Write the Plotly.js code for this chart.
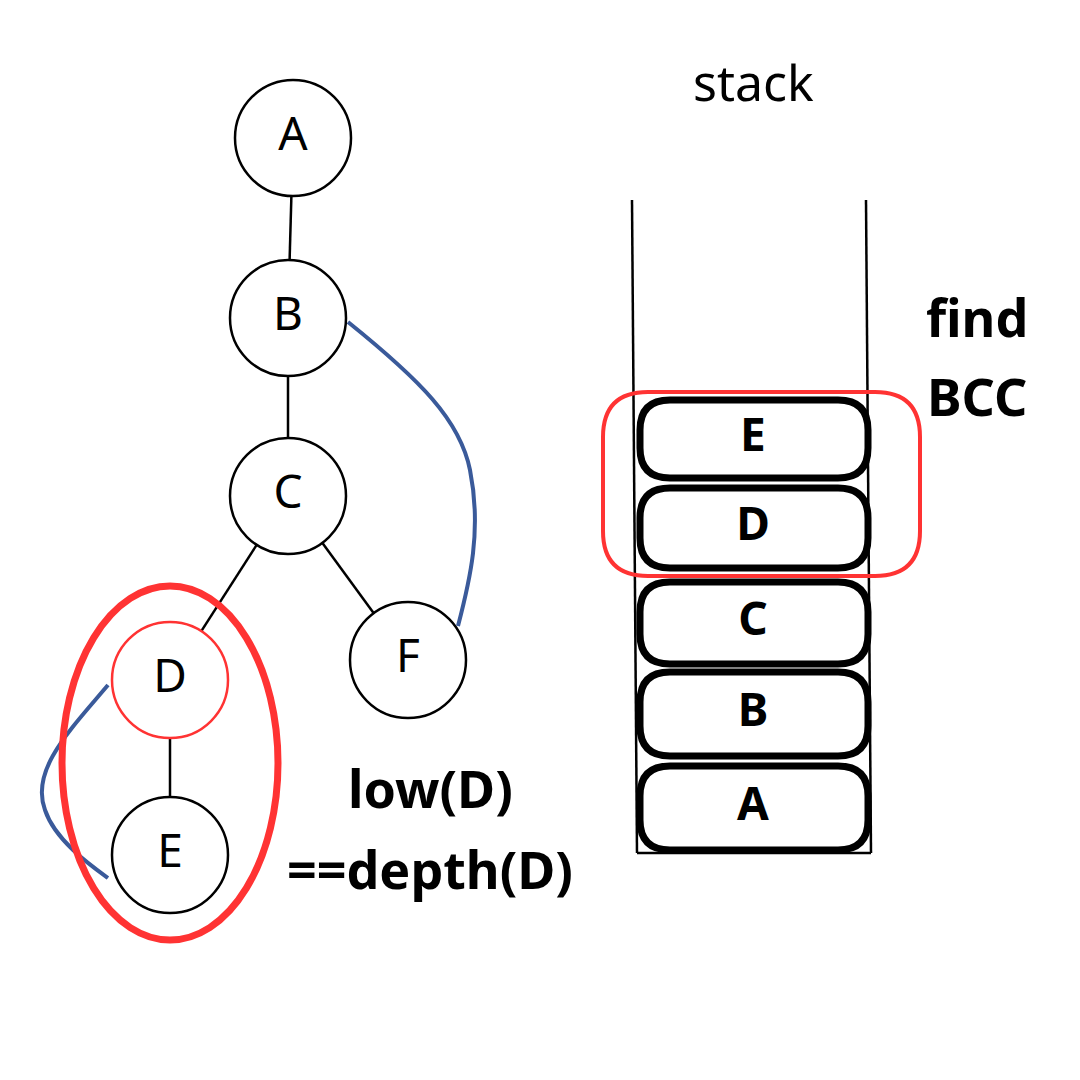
<!DOCTYPE html>
<html>
<head>
<meta charset="utf-8">
<script src="https://cdn.plot.ly/plotly-3.0.1.min.js"></script>
<style>html,body{margin:0;padding:0;background:#fff}#chart{width:1080px;height:1080px}</style>
</head>
<body>
<div id="chart"></div>
<script>
// Tree nodes
const node_names = ['A', 'B', 'C', 'D', 'E', 'F'];
const node_x = [293, 288, 288, 170, 170, 408];
const node_y = [138, 318, 496, 680, 855, 660];
const node_edge = ['black', 'black', 'black', '#ff3333', 'black', 'black'];
const tree_edges = [['A', 'B'], ['B', 'C'], ['C', 'D'], ['C', 'F'], ['D', 'E']];

// Stack contents, top to bottom
const stack_labels = ['E', 'D', 'C', 'B', 'A'];
const stack_top = [400, 488, 582, 672, 766];
const stack_bottom = [478, 568, 664, 756, 850];

const R = 58;
const BLUE = '#3a5a9a';
const RED = '#ff3333';

const idx = n => node_names.indexOf(n);

// edges trimmed to circle borders
let edge_traces = tree_edges.map(([a, b]) => {
    const i = idx(a), j = idx(b);
    const dx = node_x[j] - node_x[i], dy = node_y[j] - node_y[i];
    const d = Math.hypot(dx, dy);
    return {
        x: [node_x[i] + dx / d * R, node_x[j] - dx / d * R],
        y: [node_y[i] + dy / d * R, node_y[j] - dy / d * R],
        mode: 'lines', type: 'scatter', hoverinfo: 'skip',
        line: { color: 'black', width: 2.5 }
    };
});

const nodes = {
    x: node_x, y: node_y, text: node_names,
    mode: 'markers+text', type: 'scatter', hoverinfo: 'skip',
    marker: { size: 2 * R, color: 'white', line: { color: node_edge, width: 2.5 } },
    textfont: { family: 'Noto Sans', size: 46, color: 'black' }
};

const stack_text = {
    x: stack_labels.map(() => 753),
    y: stack_labels.map((l, i) => (stack_top[i] + stack_bottom[i]) / 2),
    text: stack_labels,
    mode: 'text', type: 'scatter', hoverinfo: 'skip',
    textfont: { family: 'Noto Sans', size: 46, color: 'black', weight: 'bold' }
};

const rounded = function (x0, y0, x1, y1, r) {
    return `M${x0 + r},${y0} L${x1 - r},${y0} Q${x1},${y0} ${x1},${y0 + r} L${x1},${y1 - r} Q${x1},${y1} ${x1 - r},${y1} ` +
        `L${x0 + r},${y1} Q${x0},${y1} ${x0},${y1 - r} L${x0},${y0 + r} Q${x0},${y0} ${x0 + r},${y0} Z`;
};

let shapes = [
    { type: 'line', x0: 632, y0: 200, x1: 637, y1: 853, line: { color: 'black', width: 2.5 } },
    { type: 'line', x0: 866, y0: 200, x1: 871, y1: 853, line: { color: 'black', width: 2.5 } },
    { type: 'line', x0: 637, y0: 853, x1: 871, y1: 853, line: { color: 'black', width: 2.5 } },
    { type: 'path', path: 'M348,322 C420,380 460,420 470,470 C482,530 470,580 458,626', line: { color: BLUE, width: 4 } },
    { type: 'path', path: 'M108,685 C70,730 30,770 45,810 C55,840 90,865 108,878', line: { color: BLUE, width: 4 } },
    { type: 'circle', x0: 62, x1: 278, y0: 586, y1: 940, line: { color: RED, width: 7 } },
    { type: 'path', path: rounded(603, 392, 920, 576, 45), line: { color: RED, width: 4 } }
];
stack_labels.forEach((l, i) => {
    shapes.push({ type: 'path', path: rounded(640, stack_top[i], 868, stack_bottom[i], 30), line: { color: 'black', width: 7 }, fillcolor: 'white', layer: 'below' });
});
// keep red outlines above boxes, node circles above curves
shapes.forEach(s => { if (!s.layer) s.layer = 'above'; });

const label = (x, y, t, bold) => ({
    x: x, y: y, text: t, showarrow: false, xanchor: 'center', yanchor: 'middle',
    font: { family: 'Noto Sans', size: bold ? 52 : 50, color: 'black', weight: bold ? 'bold' : 'normal' }
});

const layout = {
    width: 1080, height: 1080,
    margin: { l: 0, r: 0, t: 0, b: 0 },
    paper_bgcolor: 'white', plot_bgcolor: 'white',
    showlegend: false,
    xaxis: { range: [0, 1080], visible: false, fixedrange: true },
    yaxis: { range: [1080, 0], visible: false, fixedrange: true },
    shapes: shapes,
    annotations: [
        label(753, 82, 'stack', false),
        label(977, 316, 'find', true),
        label(977, 395, 'BCC', true),
        label(430, 787, 'low(D)', true),
        label(430, 868, '==depth(D)', true)
    ]
};

Plotly.newPlot('chart', [...edge_traces, nodes, stack_text], layout, { displayModeBar: false, staticPlot: true });
</script>
</body>
</html>
